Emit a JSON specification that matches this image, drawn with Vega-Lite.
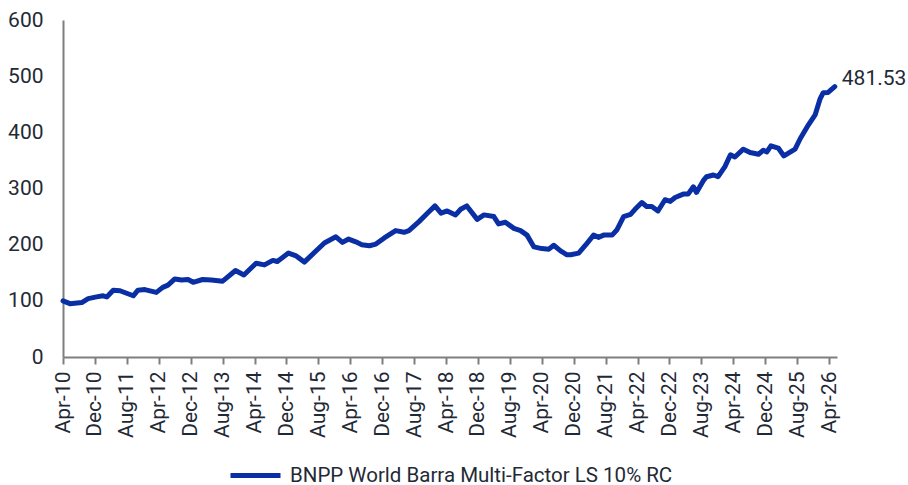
{
  "$schema": "https://vega.github.io/schema/vega-lite/v6.json",
  "autosize": "none",
  "width": 774,
  "height": 337,
  "padding": {"left": 63, "top": 20, "right": 71, "bottom": 128},
  "background": "white",
  "config": {
    "view": {"stroke": null},
    "font": "Roboto",
    "axis": {"labelFont": "Roboto", "labelColor": "#1f2a36", "grid": false, "title": null}
  },
  "data": {
    "values": [
      {"date": "2010-04-01", "value": 100},
      {"date": "2010-05-24", "value": 95},
      {"date": "2010-08-22", "value": 97},
      {"date": "2010-10-10", "value": 104},
      {"date": "2010-12-13", "value": 107},
      {"date": "2011-02-01", "value": 109},
      {"date": "2011-03-01", "value": 107},
      {"date": "2011-04-19", "value": 119},
      {"date": "2011-06-10", "value": 118},
      {"date": "2011-09-19", "value": 109},
      {"date": "2011-10-25", "value": 119},
      {"date": "2011-12-16", "value": 120},
      {"date": "2012-03-13", "value": 115},
      {"date": "2012-05-01", "value": 124},
      {"date": "2012-06-10", "value": 128},
      {"date": "2012-08-01", "value": 139},
      {"date": "2012-09-22", "value": 137},
      {"date": "2012-11-10", "value": 138},
      {"date": "2012-12-19", "value": 133},
      {"date": "2013-03-01", "value": 138},
      {"date": "2013-05-07", "value": 137},
      {"date": "2013-08-01", "value": 135},
      {"date": "2013-11-07", "value": 154},
      {"date": "2014-01-10", "value": 146},
      {"date": "2014-04-13", "value": 167},
      {"date": "2014-06-16", "value": 164},
      {"date": "2014-08-19", "value": 172},
      {"date": "2014-09-22", "value": 170},
      {"date": "2014-12-16", "value": 185},
      {"date": "2015-02-13", "value": 180},
      {"date": "2015-04-16", "value": 169},
      {"date": "2015-05-22", "value": 177},
      {"date": "2015-09-16", "value": 203},
      {"date": "2015-12-13", "value": 214},
      {"date": "2016-02-01", "value": 204},
      {"date": "2016-03-19", "value": 210},
      {"date": "2016-05-13", "value": 205},
      {"date": "2016-06-28", "value": 200},
      {"date": "2016-08-25", "value": 198},
      {"date": "2016-10-13", "value": 201},
      {"date": "2016-12-16", "value": 212},
      {"date": "2017-03-13", "value": 225},
      {"date": "2017-05-16", "value": 222},
      {"date": "2017-06-22", "value": 225},
      {"date": "2017-09-07", "value": 241},
      {"date": "2017-11-10", "value": 256},
      {"date": "2018-01-07", "value": 269},
      {"date": "2018-02-22", "value": 256},
      {"date": "2018-04-10", "value": 260},
      {"date": "2018-06-13", "value": 253},
      {"date": "2018-07-22", "value": 263},
      {"date": "2018-09-07", "value": 269},
      {"date": "2018-11-25", "value": 245},
      {"date": "2019-01-16", "value": 253},
      {"date": "2019-04-01", "value": 250},
      {"date": "2019-05-07", "value": 237},
      {"date": "2019-06-28", "value": 240},
      {"date": "2019-09-01", "value": 229},
      {"date": "2019-10-22", "value": 225},
      {"date": "2019-12-10", "value": 217},
      {"date": "2020-02-01", "value": 196},
      {"date": "2020-04-01", "value": 193},
      {"date": "2020-05-25", "value": 192},
      {"date": "2020-07-01", "value": 199},
      {"date": "2020-08-22", "value": 189},
      {"date": "2020-10-10", "value": 182},
      {"date": "2020-11-07", "value": 182},
      {"date": "2021-01-07", "value": 185},
      {"date": "2021-02-28", "value": 199},
      {"date": "2021-05-01", "value": 217},
      {"date": "2021-06-10", "value": 213},
      {"date": "2021-07-16", "value": 217},
      {"date": "2021-09-19", "value": 217},
      {"date": "2021-10-25", "value": 226},
      {"date": "2021-12-16", "value": 250},
      {"date": "2022-02-07", "value": 254},
      {"date": "2022-03-13", "value": 263},
      {"date": "2022-05-04", "value": 275},
      {"date": "2022-06-10", "value": 268},
      {"date": "2022-07-19", "value": 268},
      {"date": "2022-09-04", "value": 260},
      {"date": "2022-10-28", "value": 280},
      {"date": "2022-12-07", "value": 277},
      {"date": "2023-01-13", "value": 284},
      {"date": "2023-03-16", "value": 290},
      {"date": "2023-04-22", "value": 290},
      {"date": "2023-06-01", "value": 303},
      {"date": "2023-06-25", "value": 293},
      {"date": "2023-08-16", "value": 314},
      {"date": "2023-09-10", "value": 321},
      {"date": "2023-11-01", "value": 324},
      {"date": "2023-12-07", "value": 321},
      {"date": "2024-01-28", "value": 339},
      {"date": "2024-03-10", "value": 360},
      {"date": "2024-04-13", "value": 356},
      {"date": "2024-06-16", "value": 370},
      {"date": "2024-08-07", "value": 364},
      {"date": "2024-10-10", "value": 361},
      {"date": "2024-11-16", "value": 368},
      {"date": "2024-12-13", "value": 365},
      {"date": "2025-01-13", "value": 376},
      {"date": "2025-03-10", "value": 372},
      {"date": "2025-04-22", "value": 358},
      {"date": "2025-07-16", "value": 370},
      {"date": "2025-08-25", "value": 389},
      {"date": "2025-10-25", "value": 413},
      {"date": "2025-12-16", "value": 431},
      {"date": "2026-01-22", "value": 459},
      {"date": "2026-02-16", "value": 470.5},
      {"date": "2026-03-25", "value": 471},
      {"date": "2026-05-15", "value": 481.53}
    ]
  },
  "encoding": {
    "x": {
      "field": "date",
      "type": "temporal",
      "scale": {
        "type": "utc",
        "domain": [
          {"year": 2010, "month": 4, "date": 1, "utc": true},
          {"year": 2026, "month": 6, "date": 1, "utc": true}
        ]
      },
      "axis": {
        "labelExpr": "utcFormat(datum.value, '%b-%y')",
        "labelAngle": -90,
        "labelFontSize": 21,
        "labelPadding": 7,
        "labelOverlap": false,
        "labelFlush": false,
        "labelLimit": 200,
        "domainColor": "#7f7f7f",
        "domainWidth": 2,
        "tickColor": "#7f7f7f",
        "tickWidth": 2,
        "tickSize": 7,
        "values": [
          {"year": 2010, "month": 4, "date": 1, "utc": true},
          {"year": 2010, "month": 12, "date": 1, "utc": true},
          {"year": 2011, "month": 8, "date": 1, "utc": true},
          {"year": 2012, "month": 4, "date": 1, "utc": true},
          {"year": 2012, "month": 12, "date": 1, "utc": true},
          {"year": 2013, "month": 8, "date": 1, "utc": true},
          {"year": 2014, "month": 4, "date": 1, "utc": true},
          {"year": 2014, "month": 12, "date": 1, "utc": true},
          {"year": 2015, "month": 8, "date": 1, "utc": true},
          {"year": 2016, "month": 4, "date": 1, "utc": true},
          {"year": 2016, "month": 12, "date": 1, "utc": true},
          {"year": 2017, "month": 8, "date": 1, "utc": true},
          {"year": 2018, "month": 4, "date": 1, "utc": true},
          {"year": 2018, "month": 12, "date": 1, "utc": true},
          {"year": 2019, "month": 8, "date": 1, "utc": true},
          {"year": 2020, "month": 4, "date": 1, "utc": true},
          {"year": 2020, "month": 12, "date": 1, "utc": true},
          {"year": 2021, "month": 8, "date": 1, "utc": true},
          {"year": 2022, "month": 4, "date": 1, "utc": true},
          {"year": 2022, "month": 12, "date": 1, "utc": true},
          {"year": 2023, "month": 8, "date": 1, "utc": true},
          {"year": 2024, "month": 4, "date": 1, "utc": true},
          {"year": 2024, "month": 12, "date": 1, "utc": true},
          {"year": 2025, "month": 8, "date": 1, "utc": true},
          {"year": 2026, "month": 4, "date": 1, "utc": true}
        ]
      }
    },
    "y": {
      "field": "value",
      "type": "quantitative",
      "scale": {"domain": [0, 600], "nice": false, "zero": true},
      "axis": {
        "values": [0, 100, 200, 300, 400, 500, 600],
        "labelFontSize": 21,
        "labelPadding": 20,
        "ticks": false,
        "domainColor": "#7f7f7f",
        "domainWidth": 2
      }
    }
  },
  "layer": [
    {
      "mark": {"type": "line", "strokeWidth": 5, "strokeCap": "round", "strokeJoin": "round"},
      "encoding": {
        "color": {
          "datum": "BNPP World Barra Multi-Factor LS 10% RC",
          "type": "nominal",
          "scale": {"range": ["#0a2ea3"]},
          "legend": {
            "title": null,
            "orient": "none",
            "legendX": 165,
            "legendY": 428,
            "padding": 0,
            "symbolType": "stroke",
            "symbolSize": 2500,
            "symbolStrokeWidth": 5,
            "labelFontSize": 20.5,
            "labelFont": "Roboto",
            "labelColor": "#1f2a36",
            "labelOffset": 7,
            "labelLimit": 700
          }
        }
      }
    },
    {
      "transform": [{"filter": "datum.value == 481.53"}],
      "mark": {"type": "text", "align": "left", "baseline": "middle", "dx": 7, "dy": -8, "fontSize": 21, "font": "Roboto", "color": "#1f2a36"},
      "encoding": {
        "text": {"field": "value", "type": "quantitative", "format": ".2f"}
      }
    }
  ]
}
